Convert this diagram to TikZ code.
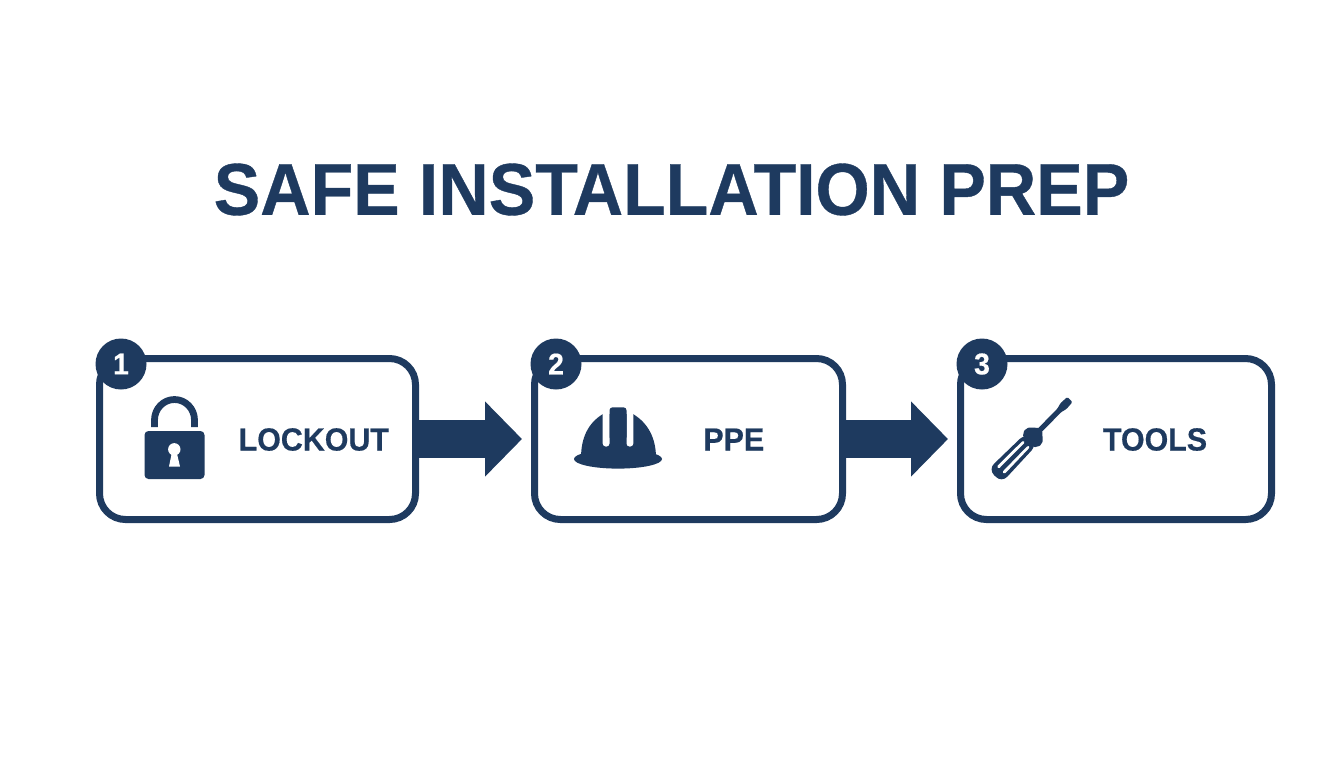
\documentclass[tikz,border=0pt]{standalone}
\usepackage{fontspec}
\setmainfont{Liberation Sans}[BoldFeatures={FakeBold=0.5,FakeStretch=0.95}]
\usetikzlibrary{arrows.meta}
\definecolor{navy}{RGB}{30,58,95}
\tikzset{
  stepbox/.style={draw=navy,line width=3.5pt,rounded corners=13pt,fill=white,minimum width=156pt,minimum height=80.5pt,inner sep=0pt},
  badge/.style={circle,fill=navy,text=white,minimum size=25.5pt,inner sep=0pt,font=\bfseries\fontsize{15}{15}\selectfont},
  steplabel/.style={text=navy,inner sep=0pt,font=\bfseries\fontsize{16}{16}\selectfont},
  blockarrow/.style={draw=navy,line width=19pt,-{Triangle[length=18.5pt,width=36.5pt]}}
}
\begin{document}
\begin{tikzpicture}[line cap=butt,line join=round,x=0.5pt,y=-0.5pt]
\useasboundingbox (0,0) rectangle (1344,768);
\node[text=navy,inner sep=0pt,font=\bfseries\fontsize{36.7}{36.7}\selectfont] (title) at (671.5,189.5) {SAFE INSTALLATION PREP};
%boxes
\node[stepbox,minimum width=158pt] (lockout) at (257.5,439) {};
\node[stepbox,minimum width=154pt] (ppe) at (688.5,439) {};
\node[stepbox,minimum width=155.5pt] (tools) at (1116,439) {};
%connectors
\draw [blockarrow,shorten >=4.5pt] (lockout.east) -- (ppe.west);
\draw [blockarrow,shorten >=4.5pt] (ppe.east) -- (tools.west);
%badges
\node[badge] (one) at (121,364) {1};
\node[badge] (two) at (556,364) {2};
\node[badge] (three) at (982,364) {3};
%labels
\node[steplabel] (lockouttext) at (313.8,439.5) {LOCKOUT};
\node[steplabel] (ppetext) at (733.8,439.5) {PPE};
\node[steplabel] (toolstext) at (1155,439.5) {TOOLS};
%lock
\draw [navy,line width=3.4pt] (154.5,427)-- (154.5,420) arc (180:360:20 and 20.5)-- (194.5,427);
\fill [navy,rounded corners=2pt] (144.5,431) rectangle (204.5,479);
\fill [white] (174.3,449.3) circle (3.1pt);
\fill [white] (172,452)-- (176.6,452)-- (180,466.5)-- (169,466.5)-- cycle;
%helmet
\fill [navy] (618,459) ellipse (22pt and 4.8pt);
\fill [navy] (581,458) .. controls (581,438) and (588,423) .. (603,414)-- (633,414) .. controls (648,423) and (656,438) .. (656,458)-- cycle;
\fill [white,rounded corners=1.5pt] (602.7,405) rectangle (609.5,446.5);
\fill [white,rounded corners=1.5pt] (626.5,405) rectangle (633.3,446.5);
\fill [navy,rounded corners=1.5pt] (609.5,407.3) rectangle (626.5,440);
%screwdriver
\begin{scope}[shift={(995,476)},rotate=45.6]
\fill [navy,rounded corners=4pt] (0,-9.5)-- (52,-8)-- (52,8)-- (0,9.5)-- cycle;
\fill [white,rounded corners=0.6pt] (8,-5.4)-- (45,-4.8)-- (45,-2.2)-- (8,-2.4)-- cycle;
\fill [white,rounded corners=0.6pt] (8,2.4)-- (45,2.2)-- (45,4.8)-- (8,5.4)-- cycle;
\fill [navy,rounded corners=0.4pt] (48,-8)-- (53,-11)-- (58,-10)-- (65,-2.5)-- (65,2.5)-- (58,10)-- (53,11)-- (48,8)-- cycle;
\fill [navy,rounded corners=0.6pt] (60,-2.6)-- (92,-2.6)-- (98,-4.2)-- (107,-3.6)-- (107,3.6)-- (98,4.2)-- (92,2.6)-- (60,2.6)-- cycle;
\end{scope}
\end{tikzpicture}
\end{document}
